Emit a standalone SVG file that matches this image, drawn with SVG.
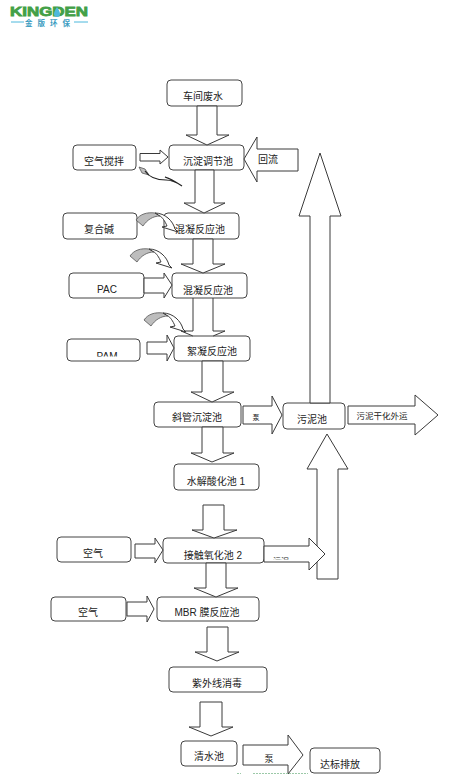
<svg xmlns="http://www.w3.org/2000/svg" width="454" height="774" viewBox="0 0 454 774">
<style>
.n{fill:#fff;stroke:#444;stroke-width:1}
.t{font-family:"Liberation Sans","Noto Sans CJK SC",sans-serif;font-size:10px;fill:#222;text-anchor:middle}
.a{fill:#fff;stroke:#3a3a3a;stroke-width:1;stroke-linejoin:miter}
.g{fill:#bdbdbd;stroke:#444;stroke-width:.7}
</style>
<defs>
<clipPath id="clipPam"><rect x="90" y="350" width="40" height="6.5"/></clipPath>
<clipPath id="clipLbl"><rect x="265" y="550" width="40" height="9.5"/></clipPath>
<g id="curl">
<path class="g" d="M130,256C134,250 141,248 149,249L154,252C147,252 141,256 137,262Z"/>
<path class="a" d="M149,249C159,249 167,257 169,265L172,268L156,263L161,262C159,257 156,253 154,252Z"/>
</g>
</defs>
<g id="logo">
<text x="10" y="15.500" textLength="78" lengthAdjust="spacingAndGlyphs" style="font-family:'Liberation Sans',sans-serif;font-weight:700;font-size:13px;fill:#43a047;stroke:#43a047;stroke-width:.8">KINGDEN</text>
<path d="M57,7C59,10 60,12 60,14A3,3 0 0 1 54,14C54,12 55,10 57,7Z" fill="#4db8dc"/>
<path d="M11,22H24M74,22H88" stroke="#4db8dc" stroke-width="1" fill="none"/>
<text x="50" y="26" style="font-family:'Noto Sans CJK SC',sans-serif;font-size:7.500px;font-weight:700;fill:#3a9bc0;text-anchor:middle;letter-spacing:5px">金版环保</text>
</g>
<g id="node-chejian"><rect class="n" x="167" y="80" width="75" height="26" rx="4"/><text class="t" x="203" y="100">车间废水</text></g>
<g id="node-tiaojie"><rect class="n" x="169" y="145" width="75" height="25" rx="4"/><text class="t" x="208" y="165">沉淀调节池</text></g>
<g id="node-kongqi0"><rect class="n" x="73" y="145" width="63" height="25" rx="4"/><text class="t" x="104" y="165">空气搅拌</text></g>
<g id="node-fuhe"><rect class="n" x="63" y="213" width="74" height="26" rx="4"/><text class="t" x="99" y="233">复合碱</text></g>
<g id="node-hun1"><rect class="n" x="164" y="213" width="75" height="26" rx="4"/><text class="t" x="200" y="233">混凝反应池</text></g>
<g id="node-pac"><rect class="n" x="69" y="273" width="75" height="25" rx="4"/><text class="t" x="107" y="293">PAC</text></g>
<g id="node-hun2"><rect class="n" x="172" y="273" width="75" height="25" rx="4"/><text class="t" x="208" y="294">混凝反应池</text></g>
<g id="node-pam"><rect class="n" x="67" y="339" width="73" height="22" rx="4"/><text class="t" x="107" y="360" clip-path="url(#clipPam)">PAM</text></g>
<g id="node-xu"><rect class="n" x="174" y="336" width="76" height="25" rx="4"/><text class="t" x="212" y="355">絮凝反应池</text></g>
<g id="node-xie"><rect class="n" x="154" y="402" width="87" height="25" rx="4"/><text class="t" x="197" y="421">斜管沉淀池</text></g>
<g id="node-wuni"><rect class="n" x="283" y="403" width="62" height="26" rx="4"/><text class="t" x="312" y="423">污泥池</text></g>
<g id="node-shuijie"><rect class="n" x="174" y="464" width="85" height="26" rx="4"/><text class="t" x="216" y="485">水解酸化池 1</text></g>
<g id="node-jiechu"><rect class="n" x="163" y="538" width="101" height="25" rx="4"/><text class="t" x="213" y="559">接触氧化池 2</text></g>
<g id="node-kongqi1"><rect class="n" x="57" y="537" width="74" height="25" rx="4"/><text class="t" x="93" y="557">空气</text></g>
<g id="node-mbr"><rect class="n" x="157" y="597" width="102" height="24" rx="4"/><text class="t" x="207" y="616">MBR 膜反应池</text></g>
<g id="node-kongqi2"><rect class="n" x="51" y="597" width="75" height="24" rx="4"/><text class="t" x="88" y="616">空气</text></g>
<g id="node-ziwai"><rect class="n" x="169" y="667" width="98" height="25" rx="4"/><text class="t" x="217" y="687">紫外线消毒</text></g>
<g id="node-qing"><rect class="n" x="181" y="741" width="56" height="25" rx="4"/><text class="t" x="209" y="760">清水池</text></g>
<g id="node-dabiao"><rect class="n" x="310" y="748" width="70" height="25" rx="4"/><text class="t" x="340" y="768">达标排放</text></g>
<g id="connectors">
<polygon class="a" points="197,106 217,106 217,135 229,135 207,145 186,135 197,135"/>
<polygon class="a" points="195,170 214,170 214,203 225,203 204,213 184,203 195,203"/>
<polygon class="a" points="193,239 213,239 213,264 225,264 203,273 181,264 193,264"/>
<polyline class="a" points="193,298 193,331 181,331 193,336"/>
<polyline class="a" points="213,298 213,331 225,331 213,336"/>
<polygon class="a" points="202,361 223,361 223,392 234,392 212,402 191,392 202,392"/>
<polygon class="a" points="202,427 223,427 223,453 234,453 212,462 191,453 202,453"/>
<polygon class="a" points="203,505 224,505 224,530 237,530 214,538 192,530 203,530"/>
<polygon class="a" points="206,563 226,563 226,588 238,588 216,597 194,588 206,588"/>
<polygon class="a" points="207,627 228,627 228,652 239,652 217,661 195,652 207,652"/>
<polygon class="a" points="200,702 222,702 222,727 233,727 211,736 189,727 200,727"/>
<polygon class="a" points="243,745 288,745 288,735 303,755 288,774 288,765 243,765"/>
<polygon class="a" points="298,149 257,149 257,137 244,159 257,182 257,171 298,171"/>
<polygon class="a" points="310,403 310,216 299,216 320,153 341,216 330,216 330,403"/>
<polygon class="a" points="317,579 317,469 307,469 327,434 348,469 338,469 338,579"/>
<polygon class="a" points="264,546 309,546 309,538 325,554 309,570 309,562 264,562"/>
<polygon class="a" points="243,406 272,406 272,396 282,415 272,434 272,424 243,424"/>
<polygon class="a" points="348,406 415,406 415,395 438,415 415,435 415,424 348,424"/>
<polygon class="a" points="140,153.500 160,153.500 160,150 168,157 160,164 160,161 140,161"/>
<polygon class="a" points="144,278 164,278 164,273 172,285 164,298 164,293 144,293"/>
<polygon class="a" points="147,342 167,342 167,335 174,348 167,361 167,354 147,354"/>
<polygon class="a" points="135,544 155,544 155,538 163,550 155,563 155,558 135,558"/>
<polygon class="a" points="127,602 147,602 147,596 154,609 147,622 147,616 127,616"/>
<path class="g" d="M139,167L145,169L149,175L142,173Z"/>
<path d="M145,171C149,177 157,180 166,180C172,180 176,182 182,186C176,182 170,178 165,177L172,180" fill="none" stroke="#222" stroke-width="1.200"/>
<use href="#curl" transform="translate(6,-36)"/>
<use href="#curl"/>
<use href="#curl" transform="translate(14,64)"/>
<text class="t" x="268" y="163">回流</text>
<text class="t" x="256" y="420" style="font-size:7px">泵</text>
<text class="t" x="382" y="419" style="font-size:8.500px">污泥干化外运</text>
<text class="t" x="281" y="564" style="font-size:8px" clip-path="url(#clipLbl)">污泥</text>
<text class="t" x="269" y="762" style="font-size:9px">泵</text>
<path d="M237,773.500H241M253,773.500H308" stroke="#9cc9a8" stroke-width="1" stroke-dasharray="2 1" fill="none"/>
</g>
</svg>
